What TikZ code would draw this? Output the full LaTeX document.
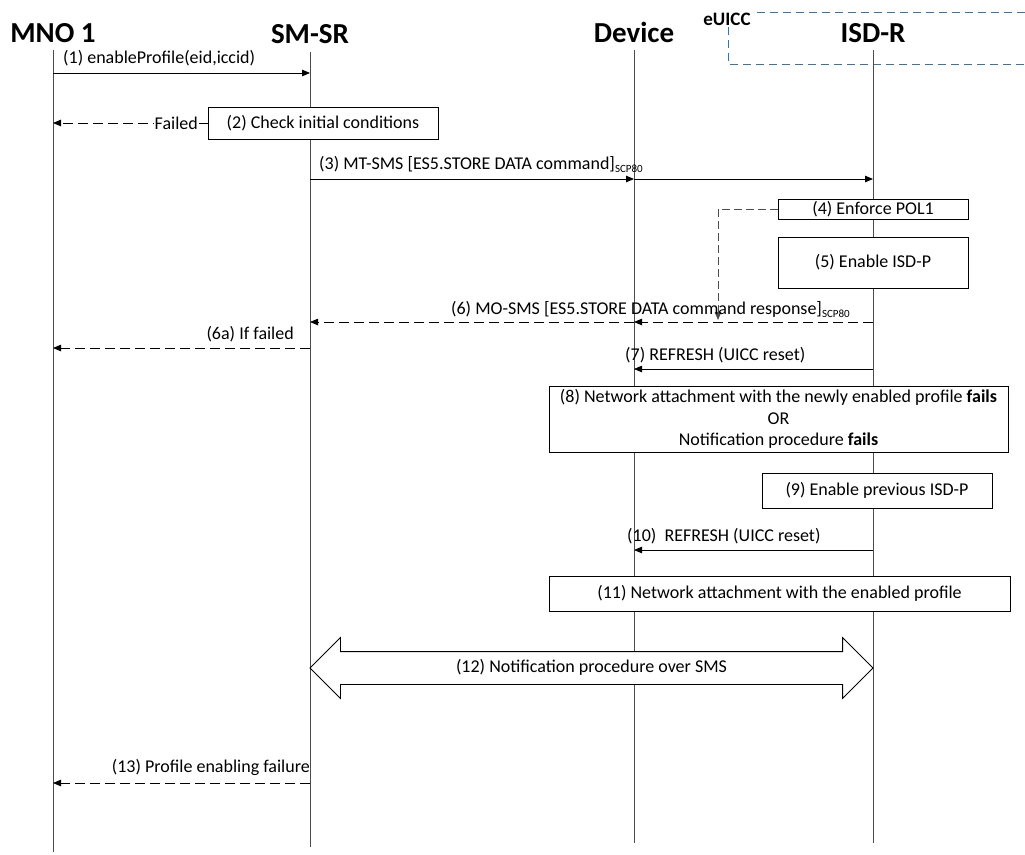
\documentclass[tikz,border=0pt]{standalone}
\usepackage{fontspec}
\setmainfont{Carlito}
\usetikzlibrary{arrows.meta,shapes.arrows}
\definecolor{euicc}{RGB}{65,113,156}

\tikzset{
  lifeline/.style={draw=black!70, line width=0.9pt},
  msg/.style={draw=black, line width=0.8pt, -{Triangle[length=8pt,width=6.5pt]}},
  dmsg/.style={msg, dash pattern=on 10pt off 5pt},
  stepbox/.style={draw=black, line width=0.8pt, fill=white, inner sep=0pt, align=center, font=\fontsize{18}{21.5}\selectfont},
  lbl/.style={inner sep=0pt, font=\fontsize{18}{21}\selectfont},
  actor/.style={inner sep=0pt, font=\fontsize{29}{32}\bfseries\selectfont}
}
\newcommand{\scpsub}{\raisebox{-3.5pt}{\fontsize{11}{11}\selectfont SCP80}}

\begin{document}
\begin{tikzpicture}[x=1pt,y=1pt,yscale=-1]
\useasboundingbox (0,0) rectangle (1025,854);

%eUICC frame
\draw[draw=euicc, line width=0.9pt, dash pattern=on 8pt off 5pt] (1025,12) -- (728,12) -- (728,64) -- (1025,64);
\node (euiccLbl) [fill=white, inner sep=1pt, font=\fontsize{19}{19}\bfseries\selectfont, anchor=base] at (727,25) {eUICC};

%Actors
\node (mno) [actor, anchor=base] at (53,42) {MNO 1};
\node (smsr) [actor, anchor=base] at (310,43) {SM-SR};
\node (device) [actor, anchor=base] at (634,42) {Device};
\node (isdr) [actor, anchor=base] at (873,42) {ISD-R};

%Lifelines
\draw[lifeline] (mno |- 0,50) -- (mno |- 0,852);
\draw[lifeline] (smsr |- 0,52) -- (smsr |- 0,847);
\draw[lifeline] (device |- 0,50) -- (device |- 0,843);
\draw[lifeline] (isdr |- 0,50) -- (isdr |- 0,843);

%(1)
\draw[msg] (mno |- 0,73) -- (smsr |- 0,73);
\node (m1) [lbl, anchor=base west] at (63,63) {(1) enableProfile(eid,iccid)};

%(2)
\node (chk) [stepbox, minimum width=230, minimum height=32] at (323,123) {(2) Check initial conditions};
\draw[dmsg] (chk.west) -- (mno |- chk.west);
\node (failed) [lbl, fill=white, inner xsep=1pt, anchor=east] at (199,123) {Failed};

%(3)
\draw[msg] (smsr |- 0,179) -- (device |- 0,179);
\draw[msg] (device |- 0,179) -- (isdr |- 0,179);
\node (m3) [lbl, anchor=base west] at (319,169) {(3) MT-SMS [ES5.STORE DATA command]\scpsub};

%(4) (5)
\node (pol) [stepbox, minimum width=190, minimum height=20] at (873,209) {(4) Enforce POL1};
\node (enable) [stepbox, minimum width=190, minimum height=51] at (873,262.5) {(5) Enable ISD-P};
\coordinate (polTip) at (718,320);
\draw[dmsg, draw=black!70, dash pattern=on 8pt off 4pt] (pol.west) -| (polTip);

%(6)
\draw[dmsg] (isdr |- 0,322) -- (device |- 0,322);
\draw[dmsg] (device |- 0,322) -- (smsr |- 0,322);
\node (m6) [lbl, anchor=base east] at (850,314) {(6) MO-SMS [ES5.STORE DATA command response]\scpsub};

%(6a)
\draw[dmsg] (smsr |- 0,348) -- (mno |- 0,348);
\node (m6a) [lbl, anchor=base east] at (294,339) {(6a) If failed};

%(7)
\draw[msg] (isdr |- 0,369) -- (device |- 0,369);
\node (m7) [lbl, anchor=base west] at (625,360) {(7) REFRESH (UICC reset)};

%(8)
\node (attach) [stepbox, minimum width=459, minimum height=66] at (778.5,419) {(8) Network attachment with the newly enabled profile \textbf{fails}\\OR\\Notification procedure \textbf{fails}};

%(9)
\node (prev) [stepbox, minimum width=230, minimum height=35] at (877,490.5) {(9) Enable previous ISD-P};

%(10)
\draw[msg] (isdr |- 0,550) -- (device |- 0,550);
\node (m10) [lbl, anchor=base west] at (627,541) {(10)\ \ REFRESH (UICC reset)};

%(11)
\node (attach2) [stepbox, minimum width=461, minimum height=35] at (779.5,593.5) {(11) Network attachment with the enabled profile};

%(12)
\node (notif) [draw=black, line width=0.8pt, fill=white, double arrow, double arrow head extend=14pt, minimum height=563, inner xsep=0pt, inner ysep=7.5pt, text height=13pt, text depth=4pt, font=\fontsize{18}{21}\selectfont] at (591.5,668) {(12) Notification procedure over SMS};

%(13)
\draw[dmsg] (smsr |- 0,783) -- (mno |- 0,783);
\node (m13) [lbl, anchor=base east] at (310,772) {(13) Profile enabling failure};

\end{tikzpicture}
\end{document}
